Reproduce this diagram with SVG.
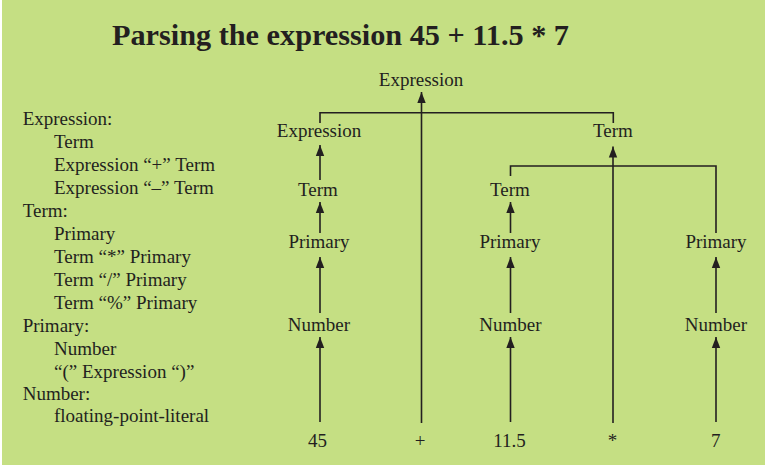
<svg xmlns="http://www.w3.org/2000/svg" width="766" height="468" viewBox="0 0 766 468">
<style>
text{font-family:"Liberation Serif","Times New Roman",serif;fill:#231f20;font-size:19px}
.n{text-anchor:middle}
.t{font-size:30px;font-weight:bold}
.c{fill:none;stroke:#231f20;stroke-width:1.6}
</style>
<defs>
<marker id="ah" markerUnits="userSpaceOnUse" markerWidth="14" markerHeight="12" viewBox="-12 -6 14 12" refX="0" refY="0" orient="auto">
<path d="M0,0 L-11,-4.2 L-11,4.2 z" fill="#231f20"/>
</marker>
</defs>
<rect x="0" y="0" width="766" height="468" fill="#ffffff"/>
<rect x="2" y="0" width="763" height="465" fill="#c5df83"/>
<text class="t" x="112" y="45" textLength="457" lengthAdjust="spacingAndGlyphs">Parsing the expression 45 + 11.5 * 7</text>
<g id="grammar">
<text x="22.7" y="125">Expression:</text>
<text x="54" y="148">Term</text>
<text x="54" y="171">Expression “+” Term</text>
<text x="54" y="194">Expression “–” Term</text>
<text x="22.7" y="217">Term:</text>
<text x="54" y="240">Primary</text>
<text x="54" y="263">Term “*” Primary</text>
<text x="54" y="286">Term “/” Primary</text>
<text x="54" y="308.5">Term “%” Primary</text>
<text x="22.7" y="331.5">Primary:</text>
<text x="54" y="354.5">Number</text>
<text x="54" y="377.5">“(” Expression “)”</text>
<text x="22.7" y="400">Number:</text>
<text x="54" y="422">floating-point-literal</text>
</g>
<g id="connectors">
<polyline class="c" points="320,123 320,112.7 613.3,112.7 613.3,123"/>
<polyline class="c" points="510.5,176 510.5,166 716,166 716,233"/>
<line class="c" x1="421.5" y1="423" x2="421.5" y2="92" marker-end="url(#ah)"/>
<line class="c" x1="320" y1="180" x2="320" y2="145" marker-end="url(#ah)"/>
<line class="c" x1="320" y1="233" x2="320" y2="202" marker-end="url(#ah)"/>
<line class="c" x1="320" y1="313" x2="320" y2="257" marker-end="url(#ah)"/>
<line class="c" x1="320" y1="422" x2="320" y2="337" marker-end="url(#ah)"/>
<line class="c" x1="510.5" y1="233" x2="510.5" y2="202" marker-end="url(#ah)"/>
<line class="c" x1="510.5" y1="313" x2="510.5" y2="257" marker-end="url(#ah)"/>
<line class="c" x1="510.5" y1="422" x2="510.5" y2="337" marker-end="url(#ah)"/>
<line class="c" x1="613" y1="423" x2="613" y2="146.5" marker-end="url(#ah)"/>
<line class="c" x1="716" y1="313" x2="716" y2="257" marker-end="url(#ah)"/>
<line class="c" x1="716" y1="422" x2="716" y2="337" marker-end="url(#ah)"/>
</g>
<g id="root-expression"><text class="n" x="421" y="86">Expression</text></g>
<g id="expression-1"><text class="n" x="319" y="137">Expression</text></g>
<g id="term-top"><text class="n" x="613" y="137">Term</text></g>
<g id="term-1"><text class="n" x="318" y="196">Term</text></g>
<g id="term-2"><text class="n" x="510" y="196">Term</text></g>
<g id="primary-1"><text class="n" x="319" y="248.3">Primary</text></g>
<g id="primary-2"><text class="n" x="510" y="248.3">Primary</text></g>
<g id="primary-3"><text class="n" x="716" y="248.3">Primary</text></g>
<g id="number-1"><text class="n" x="319" y="330.5">Number</text></g>
<g id="number-2"><text class="n" x="510.5" y="330.5">Number</text></g>
<g id="number-3"><text class="n" x="716" y="330.5">Number</text></g>
<g id="tok-45"><text class="n" x="317.5" y="447">45</text></g>
<g id="tok-plus"><text class="n" x="420" y="447">+</text></g>
<g id="tok-11-5"><text class="n" x="509.5" y="447">11.5</text></g>
<g id="tok-star"><text class="n" x="612.5" y="447">*</text></g>
<g id="tok-7"><text class="n" x="715.7" y="447">7</text></g>
</svg>
